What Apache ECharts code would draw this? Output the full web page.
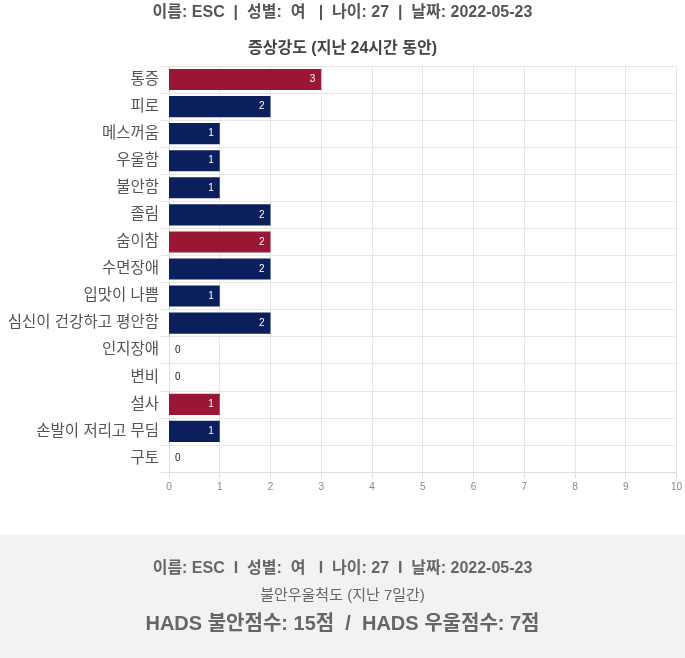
<!DOCTYPE html>
<html>
<head>
<meta charset="utf-8">
<script src="https://cdn.jsdelivr.net/npm/echarts@6/dist/echarts.min.js"></script>
<style>
    html, body { margin: 0; padding: 0; background: #fff; }
    #symptomChart { width: 685px; height: 658px; }
</style>
</head>
<body>
<div id="symptomChart"></div>
<script>
    // 증상 항목 (위에서 아래 순서)
    const symptoms = ['통증', '피로', '메스꺼움', '우울함', '불안함', '졸림', '숨이참', '수면장애',
        '입맛이 나쁨', '심신이 건강하고 평안함', '인지장애', '변비', '설사', '손발이 저리고 무딤', '구토']
    const scores = [3, 2, 1, 1, 1, 2, 2, 2, 1, 2, 0, 0, 1, 1, 0]
    // 빨간색으로 표시되는 항목
    const flagged = [true, false, false, false, false, false, true, false, false, false, false, false, true, false, false]
    const xTicks = [0, 1, 2, 3, 4, 5, 6, 7, 8, 9, 10]

    const headerText = '이름: ESC  |  성별:  여   |  나이: 27  |  날짜: 2022-05-23'
    const chartTitle = '증상강도 (지난 24시간 동안)'
    const footerInfo = '이름: ESC  I  성별:  여   I  나이: 27  I  날짜: 2022-05-23'
    const footerTitle = '불안우울척도 (지난 7일간)'
    const hadsAnxiety = 15
    const hadsDepression = 7

    const RED = '#9b1535'
    const NAVY = '#0b1f5c'
    const font = '"Liberation Sans", "Noto Sans CJK KR", sans-serif'

    const myChart = echarts.init(document.getElementById('symptomChart'))

    const barData = scores.map((v, i) => {
        const item = {
            value: v,
            itemStyle: { color: flagged[i] ? RED : NAVY }
        }
        if (v === 0) {
            item.label = { position: 'right', color: '#222', distance: 6 }
        }
        return item
    })

    let option = {
        textStyle: { fontFamily: font },
        title: [{
            text: headerText,
            left: 'center',
            top: 0,
            textStyle: { fontSize: 16, fontWeight: 'bold', color: '#555', fontFamily: font }
        }, {
            text: chartTitle,
            left: 'center',
            top: 36,
            textStyle: { fontSize: 16, fontWeight: 'bold', color: '#444', fontFamily: font }
        }],
        grid: {
            left: 169,
            right: 8,
            top: 66,
            bottom: 186,
            containLabel: false
        },
        xAxis: {
            type: 'value',
            min: xTicks[0],
            max: xTicks[xTicks.length - 1],
            interval: 1,
            axisLine: { show: true, lineStyle: { color: '#ddd' } },
            axisTick: { show: true, length: 6, lineStyle: { color: '#ddd' } },
            splitLine: { show: true, lineStyle: { color: '#e6e6e6' } },
            axisLabel: { color: '#888', fontSize: 10, margin: 10, fontFamily: font }
        },
        yAxis: {
            type: 'category',
            inverse: true,
            data: symptoms,
            axisLine: { show: true, lineStyle: { color: '#ddd' } },
            axisTick: { show: true, length: 8, lineStyle: { color: '#e6e6e6' } },
            splitLine: { show: true, lineStyle: { color: '#e6e6e6' } },
            axisLabel: { color: '#555', fontSize: 15.5, margin: 10, fontFamily: font }
        },
        series: [{
            type: 'bar',
            data: barData,
            barCategoryGap: '22%',
            label: {
                show: true,
                position: 'insideRight',
                distance: 6,
                color: '#fff',
                fontSize: 10,
                fontFamily: font
            }
        }],
        graphic: [{
            type: 'rect',
            left: 0,
            top: 535,
            shape: { width: 685, height: 123 },
            style: { fill: '#f2f2f2' },
            z: -10
        }, {
            type: 'text',
            left: 'center',
            top: 561,
            style: {
                text: footerInfo,
                fill: '#666',
                font: 'bold 16px ' + font
            }
        }, {
            type: 'text',
            left: 'center',
            top: 588,
            style: {
                text: footerTitle,
                fill: '#666',
                font: '15px ' + font
            }
        }, {
            type: 'text',
            left: 'center',
            top: 614,
            style: {
                text: 'HADS 불안점수: ' + hadsAnxiety + '점  /  HADS 우울점수: ' + hadsDepression + '점',
                fill: '#666',
                font: 'bold 20px ' + font
            }
        }]
    }
    myChart.setOption(option)
</script>
</body>
</html>
